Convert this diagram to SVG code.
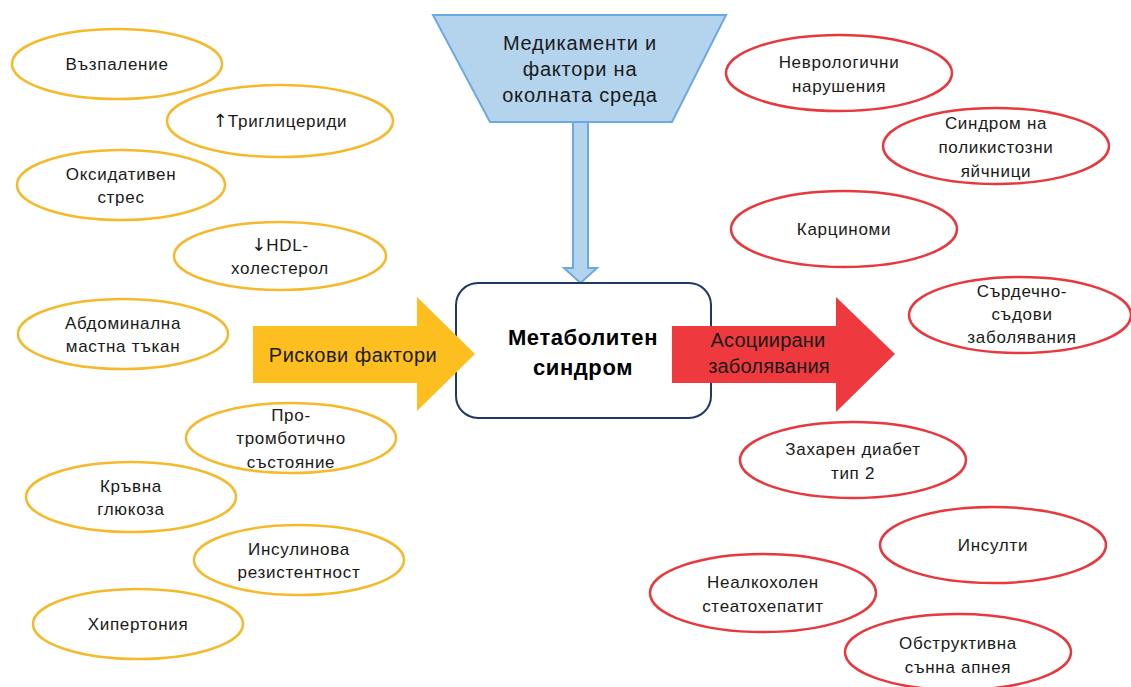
<svg xmlns="http://www.w3.org/2000/svg" width="1131" height="687" viewBox="0 0 1131 687">
<style>
text{font-family:"Liberation Sans","Noto Sans",Arial,sans-serif;fill:#1a1a1a;text-anchor:middle}
.t{font-size:17px;letter-spacing:0.7px}
.arr{font-family:"DejaVu Sans",sans-serif;font-size:18px;fill:#1a1a1a;letter-spacing:0}
.big{font-size:20px;letter-spacing:0.5px}
.top{font-size:20px;letter-spacing:0.8px}
.bold{font-size:22px;font-weight:bold;fill:#000;letter-spacing:0.6px}
.ye{fill:#fff;stroke:#f6b92b;stroke-width:2.5}
.re{fill:#fff;stroke:#e8383d;stroke-width:2.5}
</style>
<rect width="1131" height="687" fill="#fff"/>
<g id="risk-factors">
<g id="n-vazpalenie"><ellipse class="ye" cx="117" cy="64" rx="105" ry="35"/><text class="t" x="117" y="70">Възпаление</text></g>
<g id="n-trigliceridi"><ellipse class="ye" cx="280" cy="121" rx="113" ry="36"/><text class="t" x="280" y="127"><tspan class="arr">↑</tspan>Триглицериди</text></g>
<g id="n-oksidativen"><ellipse class="ye" cx="121" cy="185" rx="104" ry="35"/><text class="t" x="121" y="180">Оксидативен</text><text class="t" x="121" y="203">стрес</text></g>
<g id="n-hdl"><ellipse class="ye" cx="280" cy="256" rx="106" ry="34"/><text class="t" x="280" y="251"><tspan class="arr">↓</tspan>HDL-</text><text class="t" x="280" y="274">холестерол</text></g>
<g id="n-abdominalna"><ellipse class="ye" cx="123" cy="334" rx="105" ry="35"/><text class="t" x="123" y="329">Абдоминална</text><text class="t" x="123" y="352">мастна тъкан</text></g>
<g id="n-protromb"><ellipse class="ye" cx="291" cy="438" rx="105" ry="35"/><text class="t" x="291" y="421">Про-</text><text class="t" x="291" y="444">тромботично</text><text class="t" x="291" y="468">състояние</text></g>
<g id="n-glukoza"><ellipse class="ye" cx="131" cy="497" rx="105" ry="35"/><text class="t" x="131" y="492">Кръвна</text><text class="t" x="131" y="515">глюкоза</text></g>
<g id="n-insulinova"><ellipse class="ye" cx="299" cy="560" rx="105" ry="35"/><text class="t" x="299" y="555">Инсулинова</text><text class="t" x="299" y="578">резистентност</text></g>
<g id="n-hipertonia"><ellipse class="ye" cx="138" cy="624" rx="105" ry="35"/><text class="t" x="138" y="630">Хипертония</text></g>
</g>
<g id="diseases">
<g id="n-nevro"><ellipse class="re" cx="839" cy="73" rx="113" ry="38"/><text class="t" x="839" y="68">Неврологични</text><text class="t" x="839" y="92">нарушения</text></g>
<g id="n-spj"><ellipse class="re" cx="996" cy="146" rx="113" ry="38"/><text class="t" x="996" y="129">Синдром на</text><text class="t" x="996" y="153">поликистозни</text><text class="t" x="996" y="177">яйчници</text></g>
<g id="n-karcinomi"><ellipse class="re" cx="844" cy="229" rx="113" ry="38"/><text class="t" x="844" y="235">Карциноми</text></g>
<g id="n-sss"><ellipse class="re" cx="1020" cy="315" rx="111" ry="38"/><text class="t" x="1022" y="297">Сърдечно-</text><text class="t" x="1022" y="320">съдови</text><text class="t" x="1022" y="343">заболявания</text></g>
<g id="n-diabet"><ellipse class="re" cx="853" cy="460" rx="113" ry="38"/><text class="t" x="853" y="455">Захарен диабет</text><text class="t" x="853" y="479">тип 2</text></g>
<g id="n-insulti"><ellipse class="re" cx="993" cy="545" rx="113" ry="38"/><text class="t" x="993" y="551">Инсулти</text></g>
<g id="n-nash"><ellipse class="re" cx="763" cy="593" rx="113" ry="39"/><text class="t" x="763" y="588">Неалкохолен</text><text class="t" x="763" y="612">стеатохепатит</text></g>
<g id="n-apnea"><ellipse class="re" cx="958" cy="652" rx="113" ry="38"/><text class="t" x="958" y="649">Обструктивна</text><text class="t" x="958" y="673">сънна апнея</text></g>
</g>
<g id="connectors">
<polygon points="573,122 588,122 588,268 597,268 580.5,283 564,268 573,268" fill="#b4d4ee" stroke="#6ca9e0" stroke-width="2"/>
</g>
<g id="n-medikamenti">
<polygon points="433,15 726,15 672,122 490,122" fill="#b4d4ee" stroke="#6ca9e0" stroke-width="2"/>
<text class="top" x="580" y="50">Медикаменти и</text>
<text class="top" x="580" y="76">фактори на</text>
<text class="top" x="580" y="102">околната среда</text>
</g>
<g id="n-metabolitem">
<rect x="456" y="283" width="255" height="135" rx="22" fill="#fff" stroke="#203864" stroke-width="2"/>
<text class="bold" x="583" y="345">Метаболитен</text>
<text class="bold" x="583" y="375">синдром</text>
</g>
<g id="block-arrows">
<g id="a-risk"><polygon points="253,326 417,326 417,297 475,354 417,411 417,383 253,383" fill="#fdbf1f"/><text class="big" x="353" y="362">Рискови фактори</text></g>
<g id="a-assoc"><polygon points="672,326 836,326 836,297 895,354 836,412 836,383 672,383" fill="#ee3a3e"/><text class="big" x="768" y="347" style="letter-spacing:0.2px">Асоциирани</text><text class="big" x="769" y="373" style="letter-spacing:0.2px">заболявания</text></g>
</g>
</svg>
